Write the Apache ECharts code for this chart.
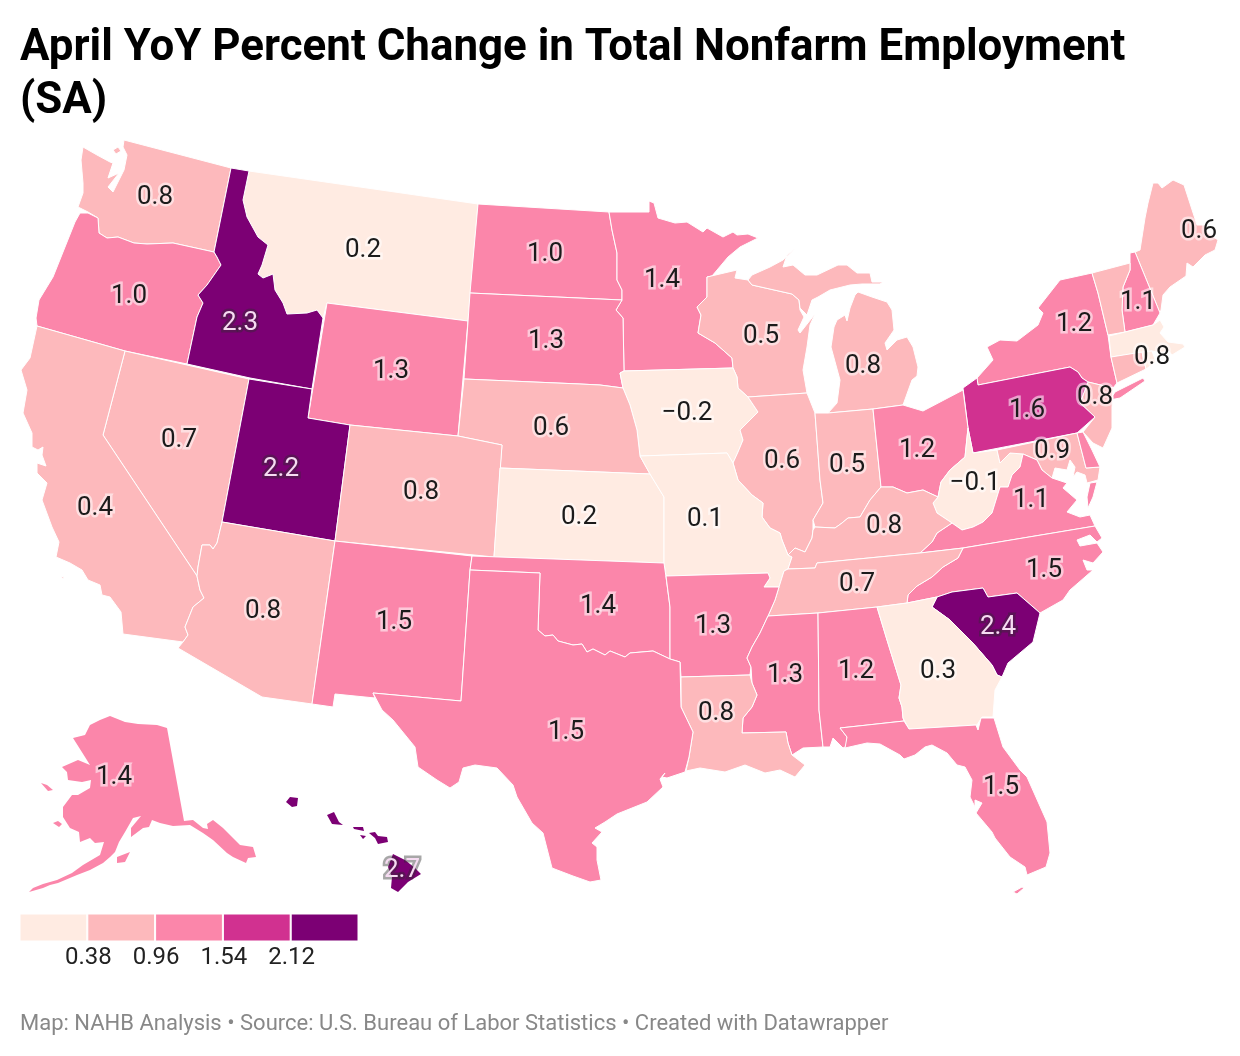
<!DOCTYPE html>
<html><head><meta charset="utf-8">
<style>html,body{margin:0;padding:0;background:#fff}#c{width:1240px;height:1056px}</style>
<script src="https://cdn.jsdelivr.net/npm/echarts@6/dist/echarts.min.js"></script>
</head><body><div id="c"></div>
<script>
// ---- chart values ----
const stateNames = ['WA','MT','ND','MN','ME','OR','ID','WY','SD','WI','MI','NY','NH','VT','MA','CT','RI','NJ','PA','IA','NE','NV','UT','CO','IL','IN','OH','WV','MD','DE','CA','KS','MO','VA','KY','NC','TN','AZ','NM','OK','AR','SC','MS','AL','GA','LA','TX','FL','AK','HI'];
const stateValues = [0.8,0.2,1.0,1.4,0.6,1.0,2.3,1.3,1.3,0.5,0.8,1.2,1.1,0.7,0.3,0.8,0.3,0.8,1.6,-0.2,0.6,0.7,2.2,0.8,0.6,0.5,1.2,-0.1,0.9,1.2,0.4,0.2,0.1,1.1,0.8,1.5,0.7,0.8,1.5,1.4,1.3,2.4,1.3,1.2,0.3,0.8,1.5,1.5,1.4,2.7];
const unlabelled = ['VT','MA','RI','DE'];
const borderless = ['AK','HI'];
const legendTicks = ['0.38','0.96','1.54','2.12'];
const legendBins = [1,1,1,1,1];
const binColors = ['#ffebe2','#fdb9bc','#fb86aa','#d13190','#7c0074'];

// ---- map geometry (drawn outline of each state, plus its label anchor) ----
const labelAnchors = {WA:[155,195],MT:[363,248],ND:[545,252],MN:[662,278],ME:[1199,229],OR:[129,294],ID:[240,321],WY:[391,369],SD:[546,339],WI:[761,334],MI:[863,364],NY:[1074,322],NH:[1138,300],CT:[1152,355],NJ:[1095,395],PA:[1027,408],IA:[687,411],NE:[551,426],NV:[179,438],UT:[281,467],CO:[421,490],IL:[782,459],IN:[847,463],OH:[917,448],WV:[975,481],MD:[1052,449],CA:[95,506],KS:[579,515],MO:[705,517],VA:[1031,498],KY:[884,524],NC:[1044,568],TN:[857,582],AZ:[263,609],NM:[394,620],OK:[598,604],AR:[713,624],SC:[998,625],MS:[785,673],AL:[856,669],GA:[938,669],LA:[716,711],TX:[566,730],FL:[1001,785],AK:[114,775],HI:[402,868]};
const outlines = {
WA:[[[83,147],[81,160],[83,183],[83,193],[78,207],[88,212],[98,218],[99,233],[107,238],[118,237],[134,243],[147,244],[173,243],[214,252],[231,168],[124,140],[123,147],[127,155],[124,170],[113,192],[108,187],[119,173],[108,178],[113,163],[110,162],[97,155]],[[113,150],[118,147],[121,151],[116,154]]],
OR:[[[80,213],[88,213],[98,218],[99,233],[107,238],[118,237],[134,243],[147,244],[173,243],[214,252],[217,257],[221,265],[207,285],[198,295],[203,303],[197,317],[187,364],[125,351],[37,326],[36,318],[39,300],[53,277],[65,247],[75,222]]],
ID:[[[231,168],[249,171],[243,200],[247,217],[258,237],[268,245],[262,265],[258,274],[263,278],[273,274],[275,290],[283,303],[287,314],[307,313],[317,310],[323,318],[312,389],[250,378],[187,364],[197,317],[203,303],[198,295],[207,285],[221,265],[217,257],[214,252]]],
MT:[[[249,171],[478,204],[468,321],[327,303],[323,318],[317,310],[307,313],[287,314],[283,303],[275,290],[273,274],[263,278],[258,274],[262,265],[268,245],[258,237],[247,217],[243,200]]],
WY:[[[327,303],[468,321],[458,436],[350,425],[308,418]]],
UT:[[[249,379],[312,389],[308,418],[350,425],[335,541],[222,522]]],
NV:[[[125,351],[249,379],[222,522],[217,543],[213,549],[210,545],[202,545],[198,567],[197,576],[103,435]]],
CA:[[[37,326],[30,358],[21,370],[27,390],[23,413],[32,433],[32,447],[38,450],[43,447],[42,455],[46,466],[37,463],[37,473],[47,483],[42,500],[52,527],[59,542],[56,557],[70,563],[82,570],[88,580],[100,585],[102,595],[110,597],[121,612],[123,634],[183,642],[188,635],[185,627],[193,607],[204,598],[200,590],[197,576],[103,435],[125,351]],[[61,576],[64,577],[63,579]]],
AZ:[[[222,522],[335,541],[312,704],[262,697],[178,648],[183,642],[188,635],[185,627],[193,607],[204,598],[200,590],[197,576],[198,567],[202,545],[210,545],[213,549],[217,543]]],
NM:[[[335,541],[472,556],[470,570],[461,701],[373,693],[375,698],[335,694],[333,707],[312,704]]],
CO:[[[350,425],[458,436],[502,445],[494,557],[335,541]]],
ND:[[[478,204],[609,212],[612,230],[617,253],[617,280],[622,290],[622,300],[470,293]]],
SD:[[[470,293],[622,300],[616,310],[623,318],[624,371],[620,373],[623,388],[600,385],[580,384],[464,379]]],
NE:[[[464,379],[580,384],[600,385],[623,388],[630,405],[637,430],[640,456],[650,474],[500,468],[502,445],[458,436]]],
KS:[[[500,468],[650,474],[664,497],[664,563],[494,557]]],
MN:[[[609,212],[649,212],[649,201],[654,203],[658,218],[675,223],[687,222],[703,232],[707,228],[723,237],[733,232],[737,235],[748,234],[758,238],[740,247],[728,257],[712,276],[707,277],[707,297],[697,307],[701,315],[698,333],[715,343],[732,358],[733,368],[624,371],[623,318],[616,310],[622,300],[622,290],[617,280],[617,253],[612,230]]],
IA:[[[624,371],[733,368],[737,377],[738,388],[748,397],[758,412],[740,430],[743,440],[738,452],[733,463],[727,453],[640,456],[637,430],[630,405],[623,388],[620,373]]],
MO:[[[640,456],[727,453],[733,463],[738,480],[752,495],[763,503],[762,517],[770,528],[780,533],[782,540],[788,555],[792,557],[788,569],[784,571],[779,587],[764,587],[770,578],[768,573],[666,576],[664,563],[664,497],[650,474]]],
WI:[[[707,277],[737,270],[735,278],[748,280],[752,285],[792,294],[799,300],[800,310],[804,317],[798,330],[800,333],[815,314],[810,325],[807,347],[803,370],[807,393],[748,397],[738,388],[737,377],[733,368],[732,358],[715,343],[698,333],[701,315],[697,307],[707,297]]],
MI:[[[748,280],[752,275],[770,267],[783,260],[795,249],[787,255],[783,267],[793,265],[805,275],[817,275],[838,265],[847,265],[857,273],[870,273],[872,282],[883,282],[880,284],[862,284],[850,285],[830,290],[818,297],[812,300],[807,315],[800,308],[799,300],[792,294],[752,285]],[[858,292],[872,297],[887,302],[892,310],[894,330],[885,343],[887,350],[897,340],[907,337],[913,347],[918,367],[917,376],[912,380],[903,405],[873,409],[828,413],[837,403],[840,380],[831,347],[834,327],[837,320],[845,315],[847,321],[850,308],[855,295]]],
IL:[[[748,397],[807,393],[815,413],[818,453],[820,480],[823,503],[813,520],[813,530],[812,538],[805,552],[795,548],[788,555],[782,540],[780,533],[770,528],[762,517],[763,503],[752,495],[738,480],[733,463],[738,452],[743,440],[740,430],[758,412]]],
IN:[[[815,413],[828,413],[873,409],[881,487],[870,500],[860,517],[848,518],[842,523],[835,528],[815,527],[813,520],[823,503],[820,480],[818,453]]],
OH:[[[873,409],[903,405],[923,411],[963,390],[968,428],[965,457],[950,470],[941,482],[938,497],[923,490],[907,493],[893,487],[881,487]]],
KY:[[[815,527],[835,528],[842,523],[848,518],[860,517],[870,500],[881,487],[893,487],[907,493],[923,490],[938,497],[933,503],[937,513],[952,523],[937,533],[932,542],[920,553],[817,563],[815,568],[788,569],[792,557],[788,555],[795,548],[805,552],[812,538],[813,530]]],
WV:[[[968,428],[973,453],[997,450],[1000,463],[1010,453],[1023,454],[1020,467],[1012,475],[1008,487],[1000,487],[992,513],[983,522],[973,527],[962,530],[952,523],[937,513],[933,503],[938,497],[941,482],[950,470],[965,457]]],
PA:[[[963,388],[977,378],[978,385],[1070,367],[1078,372],[1082,378],[1088,382],[1080,403],[1095,417],[1077,433],[973,453],[968,428]]],
NY:[[[978,385],[977,378],[993,360],[987,347],[1000,340],[1017,341],[1038,325],[1043,313],[1038,308],[1060,280],[1092,273],[1098,293],[1108,335],[1111,357],[1117,383],[1113,388],[1088,382],[1082,378],[1078,372],[1070,367]],[[1115,392],[1143,378],[1145,381],[1120,398],[1110,400]]],
NJ:[[[1088,382],[1113,388],[1112,407],[1112,428],[1103,448],[1093,443],[1083,432],[1095,417],[1080,403]]],
DE:[[[1077,433],[1083,432],[1092,450],[1100,467],[1086,468]]],
MD:[[[997,450],[1077,433],[1086,468],[1100,467],[1098,480],[1087,483],[1085,475],[1077,472],[1073,477],[1075,467],[1070,460],[1067,470],[1055,468],[1052,478],[1042,470],[1037,460],[1023,454],[1010,453],[1000,463]]],
VA:[[[1023,454],[1037,460],[1042,470],[1052,478],[1067,483],[1063,488],[1077,500],[1067,512],[1080,517],[1090,515],[1095,526],[963,548],[920,553],[932,542],[937,533],[952,523],[962,530],[973,527],[983,522],[992,513],[1000,487],[1008,487],[1012,475],[1020,467]],[[1090,483],[1097,482],[1093,497],[1088,508],[1087,497]]],
NC:[[[963,548],[1095,526],[1102,538],[1097,542],[1090,535],[1077,540],[1080,546],[1097,543],[1103,552],[1093,563],[1083,560],[1087,570],[1093,570],[1085,577],[1070,590],[1063,600],[1040,613],[1017,593],[988,597],[983,588],[952,592],[937,597],[907,603],[908,595],[917,586],[932,577],[943,567],[958,558]]],
SC:[[[937,597],[952,592],[983,588],[988,597],[1017,593],[1040,613],[1033,642],[1008,663],[1002,677],[997,675],[992,665],[972,642],[950,620],[932,607]]],
GA:[[[877,607],[907,603],[937,597],[932,607],[950,620],[972,642],[992,665],[997,675],[1002,677],[995,690],[993,717],[982,717],[977,725],[909,729],[903,718],[902,707],[899,698],[901,685],[887,640]]],
TN:[[[788,569],[815,568],[817,563],[920,553],[963,548],[958,558],[943,567],[932,577],[917,586],[908,595],[907,603],[877,607],[818,613],[768,616],[775,600],[779,587],[784,571]]],
AR:[[[666,576],[768,573],[770,578],[764,587],[779,587],[775,600],[768,616],[760,633],[752,647],[747,658],[751,667],[750,675],[681,677],[680,662],[670,659],[670,607]]],
OK:[[[472,556],[664,563],[666,577],[670,607],[670,659],[653,651],[630,653],[625,657],[610,651],[605,655],[593,649],[587,652],[582,644],[573,645],[558,641],[553,635],[545,636],[538,630],[540,573],[470,570]]],
TX:[[[470,570],[540,573],[538,630],[545,636],[553,635],[558,641],[573,645],[582,644],[587,652],[593,649],[605,655],[610,651],[625,657],[630,653],[653,651],[670,659],[680,662],[681,707],[693,732],[689,757],[685,772],[667,778],[662,777],[665,773],[660,779],[663,787],[647,802],[617,814],[605,822],[595,828],[602,832],[592,843],[597,847],[597,860],[601,880],[590,882],[573,876],[552,868],[543,833],[532,823],[517,797],[513,785],[497,768],[475,765],[463,768],[459,782],[450,788],[437,780],[418,767],[415,747],[393,720],[382,710],[373,693],[461,701]]],
LA:[[[681,677],[750,675],[752,683],[757,695],[752,707],[743,718],[742,733],[786,732],[788,743],[792,755],[805,765],[795,777],[780,770],[765,773],[745,765],[725,772],[700,768],[686,771],[689,757],[693,732],[681,707]]],
MS:[[[768,616],[818,613],[819,710],[823,747],[803,748],[792,755],[788,743],[786,732],[742,733],[743,718],[752,707],[757,695],[752,683],[751,667],[747,658],[752,647],[760,633]]],
AL:[[[818,613],[877,607],[887,640],[901,685],[899,698],[902,707],[903,718],[904,721],[840,728],[847,737],[847,746],[843,748],[833,738],[830,747],[823,747],[819,710]]],
FL:[[[840,728],[904,721],[909,729],[976,725],[978,730],[981,718],[994,718],[1003,747],[1020,770],[1027,777],[1047,822],[1050,853],[1046,867],[1027,875],[1025,867],[1010,857],[995,838],[992,832],[976,813],[982,803],[975,800],[975,807],[970,797],[972,780],[965,767],[957,765],[947,753],[932,745],[925,747],[915,755],[904,759],[900,755],[880,744],[867,743],[845,748],[847,737]],[[1013,892],[1022,887],[1024,888],[1017,894]]],
VT:[[[1092,273],[1130,263],[1130,270],[1123,287],[1122,310],[1125,332],[1108,335],[1098,293]]],
NH:[[[1130,253],[1135,252],[1160,313],[1153,325],[1125,332],[1122,310],[1123,287],[1130,270]]],
ME:[[[1135,252],[1140,250],[1145,218],[1148,203],[1153,183],[1158,183],[1162,188],[1173,180],[1184,185],[1197,225],[1205,225],[1208,233],[1218,240],[1215,250],[1205,255],[1193,267],[1187,263],[1186,276],[1170,287],[1163,295],[1161,310],[1160,313]]],
MA:[[[1109,336],[1153,325],[1160,320],[1164,327],[1160,333],[1168,342],[1183,344],[1185,347],[1172,355],[1168,350],[1162,353],[1152,351],[1111,357]]],
CT:[[[1111,357],[1142,352],[1146,369],[1117,383]]],
RI:[[[1142,352],[1152,351],[1156,362],[1146,369]]],
AK:[[[110,716],[125,722],[138,724],[157,725],[167,728],[184,821],[193,820],[203,828],[208,829],[207,824],[213,820],[223,828],[240,845],[253,847],[256,857],[248,858],[246,863],[233,857],[227,853],[213,840],[203,833],[190,825],[173,826],[160,823],[152,820],[149,827],[143,828],[131,837],[131,828],[141,816],[133,818],[125,832],[119,842],[115,852],[110,857],[103,863],[90,870],[77,875],[58,883],[50,885],[43,888],[29,892],[33,888],[43,884],[57,880],[72,873],[83,865],[100,855],[104,842],[95,843],[90,838],[80,842],[79,832],[70,828],[63,817],[63,807],[72,795],[78,795],[90,788],[91,780],[82,782],[68,780],[67,772],[62,767],[78,760],[90,765],[85,757],[73,738],[85,735],[90,725],[100,720]],[[117,857],[130,852],[125,862],[117,863]],[[41,783],[47,785],[53,790],[48,791]],[[53,823],[58,821],[62,824],[59,827]]],
HI:[[[286,802],[290,797],[298,798],[297,806],[292,807]],[[327,815],[334,812],[339,822],[343,825],[332,824]],[[353,827],[363,827],[364,831],[354,829]],[[360,835],[366,836],[363,839]],[[369,833],[375,832],[378,836],[387,837],[388,842],[378,844],[375,838]],[[393,854],[405,860],[415,868],[421,874],[408,882],[398,892],[391,888],[392,877],[388,867]]]
};

const geoJson = {type:'FeatureCollection',features:stateNames.map(n=>({
  type:'Feature',
  properties:{name:n,cp:labelAnchors[n]||outlines[n][0][0]},
  geometry:{type:'MultiPolygon',coordinates:outlines[n].map(r=>[r.concat([r[0]])])}
}))};
echarts.registerMap('usStates',geoJson);

const FONT='Roboto';
function labelFor(n,v){
  if(unlabelled.includes(n)) return {show:false};
  return v>=2.12
    ? {show:true,color:'#f6dcf2',textBorderColor:'rgba(45,45,45,0.42)',textBorderWidth:5}
    : {show:true,color:'#1b1b1b',textBorderColor:'rgba(255,255,255,0.55)',textBorderWidth:5};
}
const mapData = stateNames.map((n,i)=>{
  const d={name:n,value:stateValues[i],label:labelFor(n,stateValues[i])};
  if(borderless.includes(n)) d.itemStyle={borderWidth:0};
  return d;
});

const chart = echarts.init(document.getElementById('c'),null,{renderer:'canvas'});
chart.setOption({
  animation:false,
  backgroundColor:'#fff',
  textStyle:{fontFamily:FONT},
  title:[
    {text:'April YoY Percent Change in Total Nonfarm Employment\n(SA)',left:20,top:23,padding:0,
     textStyle:{fontFamily:FONT,fontWeight:700,fontSize:43.9,lineHeight:53,color:'#000'}},
    {text:'Map: NAHB Analysis \u2022 Source: U.S. Bureau of Labor Statistics \u2022 Created with Datawrapper',left:20,top:1013,padding:0,
     textStyle:{fontFamily:FONT,fontWeight:400,fontSize:22,color:'#888'}}
  ],
  visualMap:{show:false,type:'piecewise',seriesIndex:0,dimension:0,
    pieces:[{max:0.38,color:binColors[0]},{min:0.38,max:0.96,color:binColors[1]},{min:0.96,max:1.54,color:binColors[2]},{min:1.54,max:2.12,color:binColors[3]},{min:2.12,color:binColors[4]}]},
  grid:{left:19.5,top:913.5,width:339,height:28,containLabel:false},
  xAxis:{type:'value',min:0,max:5,interval:1,axisLine:{show:false},axisTick:{show:false},splitLine:{show:false},
    axisLabel:{fontFamily:FONT,fontSize:24,color:'#222',margin:4,padding:[0,0,0,2],hideOverlap:false,showMinLabel:true,showMaxLabel:true,
      formatter:v=>legendTicks[v-1]||''}},
  yAxis:{type:'category',data:['bins'],show:false},
  series:[
    {type:'map',map:'usStates',projection:{project:p=>p,unproject:p=>p},
     boundingCoords:[[0,0],[1240,1056]],left:0,top:0,width:1240,height:1056,aspectScale:1,roam:false,
     selectedMode:false,silent:true,
     itemStyle:{borderColor:'#fff',borderWidth:1},
     label:{show:true,fontFamily:FONT,fontSize:26,position:'inside',offset:[0,2],
       formatter:p=>(p.value<0?'\u2212':'')+Math.abs(p.value).toFixed(1)},
     emphasis:{disabled:true},
     data:mapData},
    ...legendBins.map((v,i)=>({type:'bar',stack:'bins',barWidth:'100%',silent:true,data:[v],
       itemStyle:{color:binColors[i],borderColor:'#fff',borderWidth:1}}))
  ]
});
</script></body></html>
